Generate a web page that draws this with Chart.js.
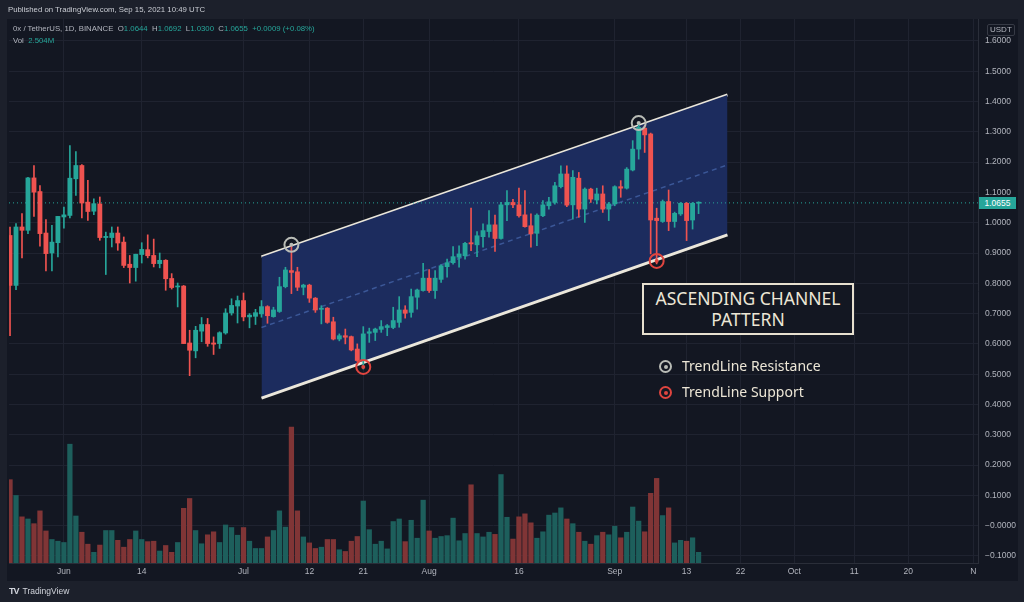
<!DOCTYPE html>
<html lang="en">
<head>
<meta charset="UTF-8">
<title>0x / TetherUS - Ascending Channel</title>
<script src="https://cdn.jsdelivr.net/npm/chart.js@4.4.1/dist/chart.umd.min.js"></script>
<style>
  body { margin: 0; width: 1024px; height: 602px; overflow: hidden; position: relative;
         background: #1c202b; font-family: "Liberation Sans", Arial, sans-serif; }
  #frame { position: absolute; left: 7px; top: 19px; width: 1011px; height: 562px; background: #131722; }
  #chartBox { position: absolute; left: 0; top: 0; width: 1024px; height: 602px; }
  .txt { position: absolute; white-space: nowrap; }
  #published { left: 8px; top: 5px; font-size: 7.8px; color: #c9ccd3; }
  #info { left: 13px; top: 24px; font-size: 7.8px; color: #b2b5be; }
  #vol { left: 13px; top: 36px; font-size: 7.8px; color: #b2b5be; }
  .up { color: #26a69a; }
  #usdt { left: 987px; top: 24px; font-size: 8px; color: #b2b5be; border: 1px solid #363a45;
          border-radius: 2px; padding: 0 2px; line-height: 10px; }
  #lastPrice { left: 979px; top: 197px; width: 37px; height: 12px; line-height: 12px; background: #26a69a;
               color: #fff; font-size: 8.5px; text-align: center; }
  #note { left: 642px; top: 283px; width: 208px; border: 2px solid #e7e0cf; background: #131722;
          color: #ece6d6; font-family: "Noto Sans", sans-serif; font-size: 17.5px; line-height: 21px;
          text-align: center; padding-top: 3px; height: 45px; }
  .leg { font-family: "Noto Sans", sans-serif; font-size: 14px; color: #ece6d6; left: 659px; }
  .ring { display: inline-block; width: 9px; height: 9px; border-radius: 50%; border: 2px solid; position: relative;
          vertical-align: -2px; margin-right: 10px; }
  .ring::after { content: ""; position: absolute; left: 2.5px; top: 2.5px; width: 4px; height: 4px; border-radius: 50%;
                 background: currentColor; }
  #logo { left: 9px; top: 586px; font-size: 8.5px; color: #d1d4dc; }
  #logo b { font-size: 9px; letter-spacing: -1px; margin-right: 4px; }
</style>
</head>
<body>
<div id="frame"></div>
<div id="chartBox"><canvas id="chart"></canvas></div>

<div class="txt" id="published">Published on TradingView.com, Sep 15, 2021 10:49 UTC</div>
<div class="txt" id="info">0x / TetherUS, 1D, BINANCE&nbsp;&nbsp;O<span class="up">1.0644</span>&nbsp;&nbsp;H<span class="up">1.0692</span>&nbsp;&nbsp;L<span class="up">1.0300</span>&nbsp;&nbsp;C<span class="up">1.0655</span>&nbsp;&nbsp;<span class="up">+0.0009 (+0.08%)</span></div>
<div class="txt" id="vol">Vol&nbsp;&nbsp;<span class="up">2.504M</span></div>
<div class="txt" id="usdt">USDT</div>
<div class="txt" id="lastPrice">1.0655</div>
<div class="txt" id="note">ASCENDING CHANNEL<br>PATTERN</div>
<div class="txt leg" style="top:356px"><span class="ring" style="color:#b9bcb6"></span>TrendLine Resistance</div>
<div class="txt leg" style="top:382px"><span class="ring" style="color:#e0453f"></span>TrendLine Support</div>
<div class="txt" id="logo"><b>TV</b>TradingView</div>

<script>
// day 0 = Jun 1 2021, first candle is May 23 (day -9), one candle per day up to Sep 15 (day 106)
const firstDay = -9;

const openP = [0.958, 0.793, 0.986, 0.975, 1.148, 1.103, 0.966, 0.900, 0.934,
  1.019, 1.024, 1.145, 1.189, 1.068, 1.038, 1.062, 0.951, 0.951, 0.966,
  0.936, 0.863, 0.852, 0.895, 0.911, 0.892, 0.865, 0.876, 0.816, 0.788,
  0.791, 0.603, 0.577, 0.642, 0.664, 0.603, 0.601, 0.636, 0.702, 0.725,
  0.743, 0.689, 0.691, 0.699, 0.723, 0.690, 0.707, 0.789, 0.842, 0.838,
  0.787, 0.794, 0.751, 0.714, 0.718, 0.673, 0.616, 0.627, 0.624, 0.583,
  0.545, 0.635, 0.638, 0.648, 0.654, 0.654, 0.671, 0.712, 0.704, 0.754,
  0.776, 0.817, 0.776, 0.813, 0.855, 0.868, 0.886, 0.891, 0.934, 0.927,
  0.954, 0.971, 0.993, 0.948, 1.059, 1.067, 1.059, 1.026, 0.990, 0.965,
  1.023, 1.056, 1.067, 1.119, 1.161, 1.059, 1.147, 1.045, 1.111, 1.075,
  1.095, 1.045, 1.062, 1.119, 1.114, 1.174, 1.243, 1.312, 1.293, 1.015,
  1.004, 1.070, 1.004, 1.029, 1.064, 1.009, 1.0644];
const highP = [0.986, 0.997, 1.030, 1.150, 1.189, 1.123, 1.010, 0.991, 1.021,
  1.052, 1.255, 1.235, 1.192, 1.140, 1.079, 1.085, 0.969, 0.986, 0.986,
  0.953, 0.892, 0.896, 0.934, 0.960, 0.946, 0.900, 0.878, 0.832, 0.801,
  0.793, 0.645, 0.658, 0.687, 0.684, 0.623, 0.640, 0.716, 0.749, 0.758,
  0.768, 0.700, 0.714, 0.743, 0.726, 0.721, 0.820, 0.853, 0.924, 0.853,
  0.797, 0.797, 0.753, 0.726, 0.720, 0.688, 0.633, 0.649, 0.626, 0.600,
  0.657, 0.652, 0.652, 0.677, 0.664, 0.721, 0.756, 0.726, 0.781, 0.781,
  0.866, 0.845, 0.842, 0.861, 0.880, 0.921, 0.924, 0.935, 1.048, 0.971,
  0.996, 1.040, 1.025, 1.067, 1.106, 1.077, 1.114, 1.106, 1.029, 1.029,
  1.073, 1.084, 1.133, 1.188, 1.188, 1.172, 1.166, 1.115, 1.114, 1.114,
  1.122, 1.067, 1.122, 1.139, 1.182, 1.271, 1.326, 1.320, 1.296, 1.048,
  1.075, 1.108, 1.035, 1.067, 1.067, 1.067, 1.0692];
const lowP = [0.627, 0.779, 0.884, 0.964, 1.021, 0.923, 0.841, 0.841, 0.887,
  0.982, 1.016, 1.090, 1.016, 1.008, 1.027, 0.942, 0.829, 0.920, 0.909,
  0.852, 0.801, 0.807, 0.867, 0.884, 0.854, 0.851, 0.777, 0.781, 0.722,
  0.601, 0.495, 0.554, 0.607, 0.592, 0.565, 0.585, 0.632, 0.695, 0.669,
  0.676, 0.653, 0.664, 0.688, 0.668, 0.688, 0.704, 0.785, 0.766, 0.776,
  0.762, 0.737, 0.704, 0.666, 0.668, 0.613, 0.610, 0.600, 0.577, 0.542,
  0.517, 0.605, 0.611, 0.638, 0.627, 0.650, 0.655, 0.685, 0.688, 0.715,
  0.774, 0.770, 0.750, 0.803, 0.820, 0.863, 0.853, 0.880, 0.908, 0.888,
  0.919, 0.952, 0.905, 0.946, 1.007, 1.050, 1.018, 0.985, 0.919, 0.924,
  1.020, 1.045, 1.061, 1.115, 1.053, 1.012, 1.018, 1.001, 1.067, 1.062,
  1.034, 1.007, 1.056, 1.084, 1.111, 1.171, 1.210, 1.232, 0.897, 0.864,
  1.001, 0.974, 0.985, 1.024, 0.941, 0.979, 1.0300];
const closeP = [0.793, 0.986, 0.975, 1.148, 1.101, 0.964, 0.898, 0.936, 1.021,
  1.026, 1.147, 1.189, 1.065, 1.037, 1.063, 0.951, 0.955, 0.966, 0.933,
  0.859, 0.852, 0.896, 0.912, 0.891, 0.865, 0.876, 0.815, 0.786, 0.791,
  0.601, 0.579, 0.645, 0.664, 0.601, 0.599, 0.637, 0.702, 0.727, 0.743,
  0.689, 0.695, 0.703, 0.723, 0.693, 0.712, 0.789, 0.844, 0.836, 0.787,
  0.794, 0.751, 0.712, 0.718, 0.671, 0.616, 0.627, 0.622, 0.580, 0.545,
  0.633, 0.640, 0.649, 0.657, 0.660, 0.677, 0.712, 0.701, 0.756, 0.778,
  0.817, 0.776, 0.817, 0.858, 0.868, 0.888, 0.897, 0.932, 0.930, 0.957,
  0.974, 0.993, 0.948, 1.059, 1.067, 1.059, 1.023, 0.987, 0.963, 1.025,
  1.059, 1.069, 1.122, 1.161, 1.058, 1.150, 1.045, 1.111, 1.078, 1.095,
  1.045, 1.062, 1.119, 1.114, 1.177, 1.243, 1.315, 1.290, 1.009, 1.007,
  1.070, 1.004, 1.031, 1.064, 1.007, 1.064, 1.0655];
// volume in millions
const volM = [19.5, 15.8, 10.8, 10.3, 9.2, 12.2, 7.5, 5.5, 5.1,
  4.8, 27.8, 11.0, 7.2, 4.4, 2.5, 4.2, 7.6, 7.6, 5.3,
  3.7, 5.5, 7.5, 5.5, 5.0, 5.1, 2.8, 4.1, 2.5, 4.8,
  12.8, 15.1, 7.6, 4.5, 6.6, 7.3, 4.8, 8.9, 8.3, 6.5,
  8.3, 5.1, 3.4, 3.4, 6.1, 7.6, 12.2, 8.4, 31.8, 12.2,
  6.1, 4.7, 3.4, 3.7, 5.5, 5.5, 3.1, 2.7, 5.1, 6.2,
  14.5, 7.8, 4.4, 5.1, 3.3, 9.7, 10.3, 5.0, 10.0, 5.8,
  14.7, 7.5, 5.8, 6.2, 6.4, 10.5, 5.2, 6.9, 18.3, 6.9,
  6.1, 7.2, 6.7, 20.7, 10.7, 5.6, 10.8, 11.5, 9.4, 5.8,
  7.3, 11.2, 11.7, 12.9, 10.3, 9.2, 7.2, 5.1, 4.4, 6.4,
  7.2, 6.6, 8.6, 5.9, 7.2, 13.1, 9.8, 7.3, 16.3, 19.8,
  11.1, 12.9, 4.7, 5.3, 5.1, 5.9, 2.504];

// x axis labels (day offsets from Jun 1)
const xTickDays = [0, 13, 30, 41, 50, 61, 76, 92, 104, 113, 122, 132, 141, 151.9];
const xTickLabels = ['Jun', '14', 'Jul', '12', '21', 'Aug', '16', 'Sep', '13', '22', 'Oct', '11', '20', 'N'];
const yTicks = [-0.1, 0, 0.1, 0.2, 0.3, 0.4, 0.5, 0.6, 0.7, 0.8, 0.9, 1.0, 1.1, 1.2, 1.3, 1.4, 1.5, 1.6];

// drawn channel
const channelDays = [33, 110.83];
const channelUpper = [0.887, 1.422];
const channelLower = [0.421, 0.960];
const channelMid = [0.654, 1.191];
const resistancePts = [[38, 0.927], [96, 1.329]];
const supportPts = [[50, 0.524], [99, 0.874]];
const lastClose = 1.0655;

const xMin = -9.17, xMax = 152.67;
const upCol = '#26a69a', downCol = '#ef5350';
const upVol = '#1d5f5c', downVol = '#803536';

const dayOf = i => firstDay + i;
const isUp = i => closeP[i] >= openP[i];
const pts = (xs, ys) => xs.map((x, i) => ({x: x, y: ys[i]}));

new Chart(document.getElementById('chart'), {
  type: 'bar',
  data: {
    datasets: [
      {type: 'line', data: pts(channelDays, channelUpper), borderColor: '#ebe7db', borderWidth: 3,
       pointRadius: 0, order: 20},
      {type: 'line', data: pts(channelDays, channelLower), borderColor: '#ebe7db', borderWidth: 3,
       pointRadius: 0, fill: {target: 0}, backgroundColor: '#1c2c5e', order: 19},
      {type: 'line', data: pts(channelDays, channelMid), borderColor: '#3b5797', borderWidth: 1.5,
       borderDash: [5, 4], pointRadius: 0, order: 18},
      {type: 'line', data: [{x: xMin, y: lastClose}, {x: xMax, y: lastClose}], borderColor: upCol,
       borderWidth: 1, borderDash: [1, 3], pointRadius: 0, order: 17},
      {data: volM.map((v, i) => ({x: dayOf(i), y: v})), yAxisID: 'yv', barThickness: 4.6, grouped: false,
       backgroundColor: volM.map((v, i) => isUp(i) ? upVol : downVol), order: 9},
      {data: lowP.map((v, i) => ({x: dayOf(i), y: [v, highP[i]]})), barThickness: 1, grouped: false,
       backgroundColor: lowP.map((v, i) => isUp(i) ? upCol : downCol), order: 3},
      {data: openP.map((v, i) => ({x: dayOf(i), y: [v, closeP[i]]})), barThickness: 4.2, grouped: false,
       minBarLength: 1, backgroundColor: openP.map((v, i) => isUp(i) ? upCol : downCol), order: 2},
      {type: 'line', data: resistancePts.map(p => ({x: p[0], y: p[1]})), showLine: false, pointRadius: 7,
       pointBorderWidth: 2, pointBorderColor: '#b9bcb6', pointBackgroundColor: 'rgba(0,0,0,0)', order: 1},
      {type: 'line', data: resistancePts.map(p => ({x: p[0], y: p[1]})), showLine: false, pointRadius: 2,
       pointBorderWidth: 0, pointBackgroundColor: '#b9bcb6', order: 1},
      {type: 'line', data: supportPts.map(p => ({x: p[0], y: p[1]})), showLine: false, pointRadius: 7,
       pointBorderWidth: 2, pointBorderColor: '#e0453f', pointBackgroundColor: 'rgba(0,0,0,0)', order: 1},
      {type: 'line', data: supportPts.map(p => ({x: p[0], y: p[1]})), showLine: false, pointRadius: 2,
       pointBorderWidth: 0, pointBackgroundColor: '#e0453f', order: 1}
    ]
  },
  options: {
    responsive: true,
    maintainAspectRatio: false,
    animation: false,
    layout: {padding: {left: 7, top: 19, right: 6, bottom: 22}},
    plugins: {legend: {display: false}, tooltip: {enabled: false}},
    scales: {
      x: {
        type: 'linear', min: xMin, max: xMax, offset: false,
        grid: {color: '#1f2330', offset: false, drawTicks: false},
        border: {color: '#2a2e39'},
        afterBuildTicks: s => { s.ticks = xTickDays.map(v => ({value: v})); },
        afterFit: s => { s.height = 17; },
        ticks: {color: '#b2b5be', font: {size: 8.5, family: 'Liberation Sans'}, padding: 4,
                maxRotation: 0, autoSkip: false, callback: (v, i) => xTickLabels[i]}
      },
      y: {
        type: 'linear', position: 'right', min: -0.1234, max: 1.6726,
        grid: {color: '#1f2330', drawTicks: false},
        border: {color: '#2a2e39'},
        afterBuildTicks: s => { s.ticks = yTicks.map(v => ({value: v})); },
        afterFit: s => { s.width = 40; },
        ticks: {color: '#b2b5be', font: {size: 8.5, family: 'Liberation Sans'}, padding: 7,
                callback: v => (v <= 0.00001 ? '\u2212' + Math.abs(v).toFixed(4) : v.toFixed(4))}
      },
      yv: {type: 'linear', display: false, min: 0, max: 127.3}
    }
  }
});
</script>
</body>
</html>
